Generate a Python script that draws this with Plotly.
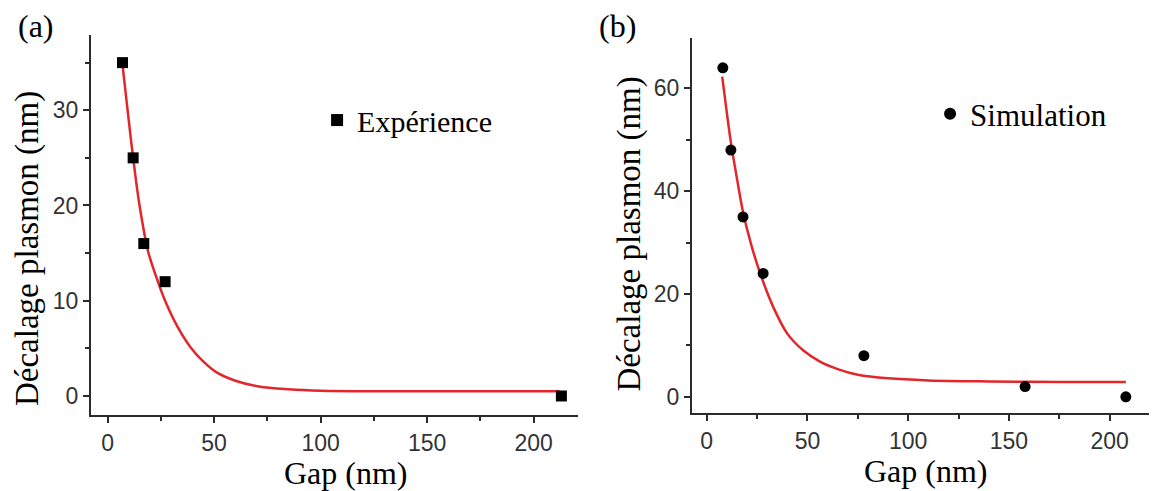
import plotly.graph_objects as go

# ---- data ----
gap_exp = [7, 12, 17, 27, 213]
shift_exp = [35, 25, 16, 12, 0]

fit_exp_x = [7, 10, 12, 15, 19, 23, 27, 33, 39, 45, 51, 60, 71, 85, 100, 130, 160, 190, 212]
fit_exp_y = [34.8, 28.8, 25.0, 20.0, 15.2, 12.4, 10.0, 7.2, 5.1, 3.6, 2.5, 1.6, 1.0, 0.7, 0.55, 0.5, 0.5, 0.5, 0.5]

gap_sim = [8, 12, 18, 28, 78, 158, 208]
shift_sim = [64, 48, 35, 24, 8, 2, 0]

fit_sim_x = [7.7, 10, 12, 15, 18, 22, 27, 33, 40, 48, 56, 65, 75, 90, 110, 140, 175, 208]
fit_sim_y = [62.3, 55.2, 49.5, 42.5, 36.0, 29.7, 23.5, 17.5, 12.3, 9.0, 6.9, 5.4, 4.3, 3.6, 3.2, 3.0, 2.9, 2.9]

x_ticks = [0, 50, 100, 150, 200]
y_ticks_a = [0, 10, 20, 30]
y_ticks_b = [0, 20, 40, 60]

x_title = "Gap (nm)"
y_title = "Décalage plasmon (nm)"

RED = "#e3262b"
AX = "#2b2b2b"
SERIF = "Liberation Serif, Times New Roman, serif"
SANS = "Liberation Sans, Arial, sans-serif"

fig = go.Figure()

fig.add_trace(go.Scatter(x=fit_exp_x, y=fit_exp_y, mode="lines", line=dict(color=RED, width=2.5, shape="spline"),
                         xaxis="x", yaxis="y", showlegend=False, hoverinfo="skip"))
fig.add_trace(go.Scatter(x=gap_exp, y=shift_exp, mode="markers", name="Expérience",
                         marker=dict(symbol="square", size=11, color="black"),
                         xaxis="x", yaxis="y", legend="legend"))

fig.add_trace(go.Scatter(x=fit_sim_x, y=fit_sim_y, mode="lines", line=dict(color=RED, width=2.5, shape="spline"),
                         xaxis="x2", yaxis="y2", showlegend=False, hoverinfo="skip"))
fig.add_trace(go.Scatter(x=gap_sim, y=shift_sim, mode="markers", name="Simulation",
                         marker=dict(symbol="circle", size=11, color="black"),
                         xaxis="x2", yaxis="y2", legend="legend2"))

axis_common = dict(showline=True, linecolor=AX, linewidth=2, ticks="outside", ticklen=6, tickwidth=1.5,
                   tickcolor=AX, showgrid=False, zeroline=False, mirror=False, automargin=False,
                   tickfont=dict(family=SANS, size=23, color="#333333"))

title_font = dict(family=SERIF, size=33, color="black")
xtitle_font = dict(family=SERIF, size=32, color="black")
label_font = dict(family=SERIF, size=32, color="black")

fig.update_layout(
    width=1149, height=483,
    margin=dict(l=0, r=0, t=0, b=0),
    paper_bgcolor="white", plot_bgcolor="white",
    xaxis=dict(domain=[0.0722, 0.4961], range=[-7.8, 220.8], tickvals=x_ticks, anchor="y",
               minor=dict(dtick=25, tick0=0, ticks="outside", ticklen=4, tickcolor=AX),
               **axis_common),
    yaxis=dict(domain=[0.1573, 0.9441], range=[-2.0, 37.9], tickvals=y_ticks_a, anchor="x",
               minor=dict(dtick=5, tick0=0, ticks="outside", ticklen=4, tickcolor=AX),
               **axis_common),
    xaxis2=dict(domain=[0.5953, 0.9983], range=[-7.3, 222.5], tickvals=x_ticks, anchor="y2",
                minor=dict(dtick=25, tick0=0, ticks="outside", ticklen=4, tickcolor=AX),
                **axis_common),
    yaxis2=dict(domain=[0.1609, 0.9379], range=[-3.2, 69.8], tickvals=y_ticks_b, anchor="x2",
                minor=dict(dtick=10, tick0=0, ticks="outside", ticklen=4, tickcolor=AX),
                **axis_common),
    legend=dict(x=0.269, y=0.768, xanchor="left", yanchor="middle", bgcolor="rgba(0,0,0,0)",
                font=dict(family=SERIF, size=30, color="black"), itemsizing="constant"),
    legend2=dict(x=0.8025, y=0.7805, xanchor="left", yanchor="middle", bgcolor="rgba(0,0,0,0)",
                 font=dict(family=SERIF, size=31, color="black"), itemsizing="constant"),
    annotations=[
        dict(text=x_title, x=0.2942, y=0.0365, xref="paper", yref="paper", xanchor="center", yanchor="middle",
             showarrow=False, font=xtitle_font),
        dict(text=x_title, x=0.799, y=0.0414, xref="paper", yref="paper", xanchor="center", yanchor="middle",
             showarrow=False, font=xtitle_font),
        dict(text=y_title, x=0.0165, y=0.503, xref="paper", yref="paper", xanchor="center", yanchor="middle",
             textangle=-90, showarrow=False, font=title_font),
        dict(text=y_title, x=0.5413, y=0.533, xref="paper", yref="paper", xanchor="center", yanchor="middle",
             textangle=-90, showarrow=False, font=title_font),
        dict(text="(a)", x=0.0244, y=0.9627, xref="paper", yref="paper", xanchor="center", yanchor="middle",
             showarrow=False, font=label_font),
        dict(text="(b)", x=0.5305, y=0.9627, xref="paper", yref="paper", xanchor="center", yanchor="middle",
             showarrow=False, font=label_font),
    ],
)

fig.write_html("out.html")
